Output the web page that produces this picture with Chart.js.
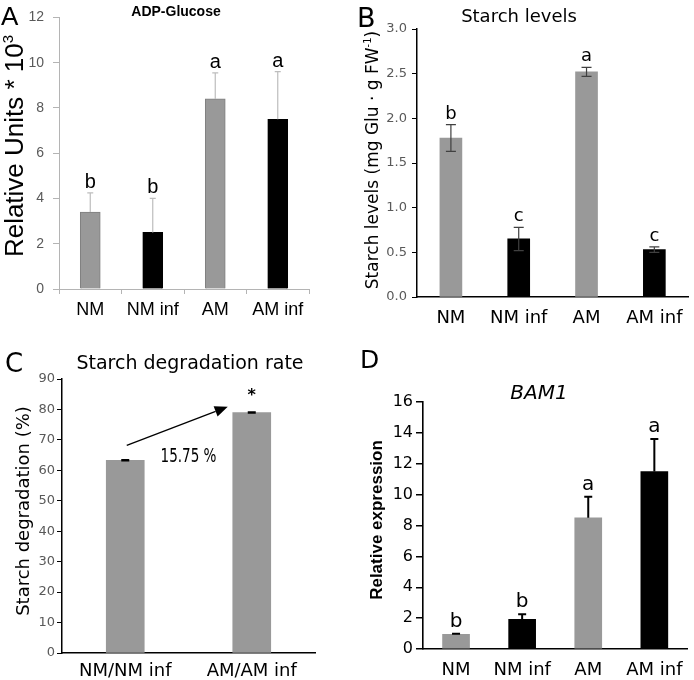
<!DOCTYPE html>
<html><head><meta charset="utf-8">
<script src="https://cdn.jsdelivr.net/npm/chart.js@4.4.0/dist/chart.umd.min.js"></script>
<style>
html,body{margin:0;padding:0;background:#fff;width:694px;height:680px;overflow:hidden}
canvas{position:absolute}
</style></head><body>
<canvas id="cA" width="347" height="330" style="left:0;top:0"></canvas>
<canvas id="cB" width="347" height="330" style="left:347px;top:0"></canvas>
<canvas id="cC" width="347" height="350" style="left:0;top:330px"></canvas>
<canvas id="cD" width="347" height="350" style="left:347px;top:330px"></canvas>
<script>
// ---------- data ----------
const groups = ['NM', 'NM inf', 'AM', 'AM inf'];
const groupColors = ['#999999', '#000000', '#999999', '#000000'];

const adpGlucose = [3.4, 2.5, 8.4, 7.5];
const adpGlucoseErr = [0.85, 1.5, 1.15, 2.1];
const adpLetters = ['b', 'b', 'a', 'a'];

const starchLevels = [1.78, 0.65, 2.52, 0.53];
const starchLevelsErr = [0.15, 0.13, 0.05, 0.03];
const starchLetters = ['b', 'c', 'a', 'c'];

const degradationGroups = ['NM/NM inf', 'AM/AM inf'];
const degradationRate = [63.3, 79.0];
const degradationErr = [0.2, 0.2];
const degradationIncrease = '15.75 %';

const bam1 = [0.95, 1.93, 8.5, 11.5];
const bam1Err = [0.04, 0.32, 1.37, 2.1];
const bam1Letters = ['b', 'b', 'a', 'a'];

// ---------- helpers ----------
function errorPlugin(id, cfg) {
  return {
    id,
    afterDatasetsDraw(chart) {
      const ctx = chart.ctx, ys = chart.scales.y;
      const meta = chart.getDatasetMeta(0);
      const vals = chart.data.datasets[0].data;
      ctx.save();
      meta.data.forEach((bar, i) => {
        const v = vals[i], e = cfg.errors[i];
        const yt = ys.getPixelForValue(v + e);
        const yb = cfg.both ? ys.getPixelForValue(v - e) : ys.getPixelForValue(v);
        ctx.strokeStyle = cfg.color; ctx.lineWidth = cfg.width;
        ctx.beginPath();
        ctx.moveTo(bar.x, yb); ctx.lineTo(bar.x, yt);
        ctx.moveTo(bar.x - cfg.cap, yt); ctx.lineTo(bar.x + cfg.cap, yt);
        if (cfg.both) { ctx.moveTo(bar.x - cfg.cap, yb); ctx.lineTo(bar.x + cfg.cap, yb); }
        ctx.stroke();
        if (cfg.letters) {
          ctx.fillStyle = '#000';
          ctx.font = cfg.letterFont; ctx.textAlign = 'center'; ctx.textBaseline = 'alphabetic';
          ctx.fillText(cfg.letters[i], bar.x, yt - cfg.gap);
        }
      });
      ctx.restore();
    }
  };
}

function drawRotated(ctx, baseX, centerY, parts) {
  ctx.save();
  ctx.translate(baseX, centerY);
  ctx.rotate(-Math.PI / 2);
  let total = 0;
  parts.forEach(p => { ctx.font = p.font; p.w = ctx.measureText(p.text).width; total += p.w; });
  let x = -total / 2;
  ctx.textBaseline = 'alphabetic'; ctx.textAlign = 'left'; ctx.fillStyle = '#000';
  parts.forEach(p => { ctx.font = p.font; ctx.fillText(p.text, x, -(p.raise || 0)); x += p.w; });
  ctx.restore();
}

function text(ctx, s, x, y, font, align, color) {
  ctx.save();
  ctx.font = font; ctx.textAlign = align || 'left'; ctx.textBaseline = 'alphabetic';
  ctx.fillStyle = color || '#000';
  ctx.fillText(s, x, y);
  ctx.restore();
}

function buildChart(id, o) {
  const canvas = document.getElementById(id);
  const W = canvas.width, H = canvas.height;
  return new Chart(canvas, {
    type: 'bar',
    data: {
      labels: o.labels,
      datasets: [{
        data: o.values,
        backgroundColor: o.colors,
        borderColor: o.borderColors || o.colors,
        borderWidth: o.borderWidth || 0,
        barThickness: o.barThickness
      }]
    },
    options: {
      responsive: false, animation: false, devicePixelRatio: 1,
      layout: { padding: { left: 0, top: o.area.top, right: W - o.area.right, bottom: 0 } },
      plugins: { legend: { display: false }, tooltip: { enabled: false }, title: { display: false } },
      scales: {
        x: {
          grid: { display: true, drawOnChartArea: false, drawTicks: !!o.xTickLen, tickLength: o.xTickLen || 0,
                  color: o.axisColor, lineWidth: 1, offset: true },
          border: { display: true, color: o.axisColor, width: o.axisWidth },
          ticks: { color: '#000', font: o.xFont, padding: o.xPad, maxRotation: 0, autoSkip: false },
          afterFit: s => { s.height = H - o.area.bottom; }
        },
        y: {
          min: o.yMin, max: o.yMax,
          grid: { display: true, drawOnChartArea: false, drawTicks: true, tickLength: o.yTickLen,
                  color: o.axisColor, lineWidth: o.yTickWidth || 1 },
          border: { display: true, color: o.axisColor, width: o.axisWidth },
          ticks: { stepSize: o.yStep, color: o.yTickColor, font: o.yFont, padding: o.yPad,
                   callback: v => Number(v).toFixed(o.yDecimals) },
          afterFit: s => { s.width = o.area.left; }
        }
      }
    },
    plugins: [errorPlugin(id + 'err', o.err), { id: id + 'decor', afterDraw: c => o.decor(c, c.ctx) }]
  });
}

// ---------- Panel A ----------
buildChart('cA', {
  labels: groups, values: adpGlucose, colors: groupColors,
  borderColors: ['#7f7f7f', '#000000', '#7f7f7f', '#000000'], borderWidth: 1, barThickness: 20,
  area: { left: 59, top: 11, right: 309, bottom: 289 },
  axisColor: '#b4b4b4', axisWidth: 1, xTickLen: 5, xPad: 5, yTickLen: 6, yPad: 9,
  xFont: { family: 'Liberation Sans', size: 18 },
  yFont: { family: 'Liberation Sans', size: 14 }, yTickColor: '#595959',
  yMin: 0, yMax: 12, yStep: 2, yDecimals: 0,
  err: { errors: adpGlucoseErr, both: false, color: '#bdbdbd', width: 1.2, cap: 3,
         letters: adpLetters, letterFont: '20px "Liberation Sans"', gap: 5 },
  decor: (c, ctx) => {
    text(ctx, 'A', 1, 25, '26px "Liberation Sans"');
    text(ctx, 'ADP-Glucose', 176, 15.5, 'bold 14px "Liberation Sans"', 'center');
    drawRotated(ctx, 23, 146, [
      { text: 'Relative Units * 10', font: '26px "Liberation Sans"' },
      { text: '3', font: '15px "Liberation Sans"', raise: 10 }
    ]);
  }
});

// ---------- Panel B ----------
buildChart('cB', {
  labels: groups, values: starchLevels, colors: groupColors, barThickness: 22,
  area: { left: 70, top: 29, right: 343, bottom: 297 },
  axisColor: '#000000', axisWidth: 1.5, xTickLen: 0, xPad: 11, yTickLen: 5, yPad: 5,
  xFont: { family: 'DejaVu Sans', size: 18 },
  yFont: { family: 'DejaVu Sans', size: 13 }, yTickColor: '#595959',
  yMin: 0, yMax: 3, yStep: 0.5, yDecimals: 1,
  err: { errors: starchLevelsErr, both: true, color: '#404040', width: 1.2, cap: 5,
         letters: starchLetters, letterFont: '18px "DejaVu Sans"', gap: 6 },
  decor: (c, ctx) => {
    text(ctx, 'B', 10, 26.7, '27px "DejaVu Sans"');
    text(ctx, 'Starch levels', 172, 21.5, '18px "DejaVu Sans"', 'center');
    drawRotated(ctx, 31, 160, [
      { text: 'Starch levels (mg Glu \u00b7 g FW', font: '17px "DejaVu Sans"' },
      { text: '-1', font: '10px "DejaVu Sans"', raise: 7 },
      { text: ')', font: '17px "DejaVu Sans"' }
    ]);
  }
});

// ---------- Panel C ----------
buildChart('cC', {
  labels: degradationGroups, values: degradationRate, colors: ['#999999', '#999999'], barThickness: 38,
  area: { left: 62, top: 49, right: 315, bottom: 323 },
  axisColor: '#000000', axisWidth: 1.5, xTickLen: 0, xPad: 8, yTickLen: 5, yPad: 2,
  xFont: { family: 'DejaVu Sans', size: 18 },
  yFont: { family: 'DejaVu Sans', size: 13 }, yTickColor: '#595959',
  yMin: 0, yMax: 90, yStep: 10, yDecimals: 0,
  err: { errors: degradationErr, both: true, color: '#000000', width: 1.2, cap: 4 },
  decor: (c, ctx) => {
    const xs = c.scales.x, ys = c.scales.y;
    text(ctx, 'C', 5, 41.7, '26px "DejaVu Sans"');
    text(ctx, 'Starch degradation rate', 190, 39, '19px "DejaVu Sans"', 'center');
    drawRotated(ctx, 29, 181, [{ text: 'Starch degradation (%)', font: '18px "DejaVu Sans"' }]);
    // arrow
    const x0 = xs.getPixelForValue(0) + 1.5, y0 = ys.getPixelForValue(68.2);
    const x1 = xs.getPixelForValue(1) - 24, y1 = ys.getPixelForValue(80.9);
    const ang = Math.atan2(y1 - y0, x1 - x0), hl = 13, hw = 5.5;
    ctx.save();
    ctx.strokeStyle = '#000'; ctx.fillStyle = '#000'; ctx.lineWidth = 1.3;
    ctx.beginPath(); ctx.moveTo(x0, y0);
    ctx.lineTo(x1 - hl * Math.cos(ang), y1 - hl * Math.sin(ang)); ctx.stroke();
    ctx.beginPath(); ctx.moveTo(x1, y1);
    ctx.lineTo(x1 - hl * Math.cos(ang) + hw * Math.sin(ang), y1 - hl * Math.sin(ang) - hw * Math.cos(ang));
    ctx.lineTo(x1 - hl * Math.cos(ang) - hw * Math.sin(ang), y1 - hl * Math.sin(ang) + hw * Math.cos(ang));
    ctx.closePath(); ctx.fill();
    // percentage label (condensed)
    const mx = (xs.getPixelForValue(0) + xs.getPixelForValue(1)) / 2, my = ys.getPixelForValue(64.2);
    ctx.font = '19px "DejaVu Sans"';
    const w = ctx.measureText(degradationIncrease).width;
    ctx.translate(mx, my); ctx.scale(56 / w, 1);
    ctx.textAlign = 'center'; ctx.textBaseline = 'middle';
    ctx.fillText(degradationIncrease, 0, 0);
    ctx.restore();
    // asterisk
    const meta = c.getDatasetMeta(0);
    text(ctx, '*', meta.data[1].x, ys.getPixelForValue(degradationRate[1] + degradationErr[1]) - 12,
         'bold 16px "DejaVu Sans"', 'center');
  }
});

// ---------- Panel D ----------
buildChart('cD', {
  labels: groups, values: bam1, colors: groupColors, barThickness: 27,
  area: { left: 76, top: 72, right: 343, bottom: 319 },
  axisColor: '#000000', axisWidth: 1.6, xTickLen: 0, xPad: 11, yTickLen: 7, yPad: 3, yTickWidth: 1.5,
  xFont: { family: 'DejaVu Sans', size: 18 },
  yFont: { family: 'DejaVu Sans', size: 16 }, yTickColor: '#000000',
  yMin: 0, yMax: 16, yStep: 2, yDecimals: 0,
  err: { errors: bam1Err, both: false, color: '#000000', width: 2, cap: 4,
         letters: bam1Letters, letterFont: '20px "DejaVu Sans"', gap: 7 },
  decor: (c, ctx) => {
    text(ctx, 'D', 13, 38.3, '25px "DejaVu Sans"');
    text(ctx, 'BAM1', 192, 69, 'italic 20px "DejaVu Sans"', 'center');
    drawRotated(ctx, 35, 190, [{ text: 'Relative expression', font: 'bold 17px "Liberation Sans"' }]);
  }
});
</script>
</body></html>
